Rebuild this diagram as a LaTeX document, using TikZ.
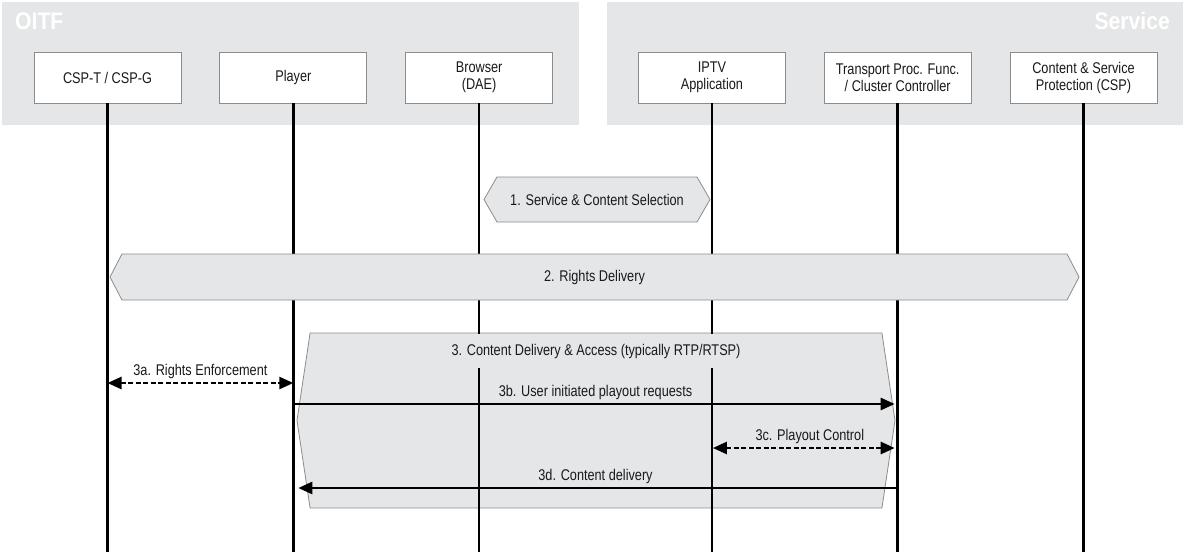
\documentclass[tikz,border=0pt]{standalone}
\usepackage{fontspec}
\setmainfont{Liberation Sans}[FakeStretch=0.82]
\newfontfamily\titlefont{Liberation Sans}[FakeStretch=0.88]
\usepackage{tikz}
\usetikzlibrary{shapes.symbols,arrows.meta,calc,positioning}
\definecolor{panelgray}{RGB}{229,230,231}
\definecolor{edgegray}{RGB}{140,140,140}
\definecolor{inkblack}{RGB}{26,26,26}

\begin{document}
\begin{tikzpicture}[x=1pt,y=-1pt,
	  every node/.style={align=center,text=inkblack,font=\fontsize{15.5}{17}\selectfont},
	  area/.style={fill=panelgray},
	  areatitle/.style={text=white,inner sep=0pt,font=\titlefont\bfseries\fontsize{24}{26}\selectfont},
	  entity/.style={draw=edgegray,line width=0.8pt,fill=white,minimum width=147pt,minimum height=51pt,inner sep=0pt},
	  life/.style={line width=2.6pt,draw=black},
	  phase/.style={signal,signal to=west and east,draw=edgegray,line width=0.8pt,fill=panelgray,inner sep=0pt},
	  msg/.style={line width=2.5pt,draw=black,-{Triangle[length=14pt,width=12pt]}},
	  ctrl/.style={line width=2.6pt,draw=black,dash pattern=on 5pt off 2.5pt,{Triangle[length=14pt,width=12pt]}-{Triangle[length=14pt,width=12pt]}}]

	  \useasboundingbox (0,0) rectangle (1185,552);

	  % OITF and Service areas
	  \fill[area] (2,2) rectangle (579,125);
	  \fill[area] (607,2) rectangle (1183,125);
	  \node[areatitle,anchor=west] (oitf) at (15,21) {OITF};
	  \node[areatitle,anchor=east] (service) at (1170,21) {Service};

	  % Functional entities
	  \node[entity] (cspt) at (107.5,77.5) {CSP-T / CSP-G};
	  \node[entity,right=38pt of cspt] (player) {Player};
	  \node[entity,right=38pt of player] (browser) {Browser\\(DAE)};
	  \node[entity,right=85pt of browser] (iptv) {IPTV\\Application};
	  \node[entity,right=38pt of iptv] (tpf) {Transport Proc. Func.\\/ Cluster Controller};
	  \node[entity,right=38pt of tpf] (csp) {Content \& Service\\Protection (CSP)};

	  % Phase 3 lies below the lifelines
	  \node[phase,signal pointer angle=163,minimum width=598pt,minimum height=175pt] (access) at (596,420.5) {};

	  % Lifelines
	  \coordinate (base) at (0,552);
	  \foreach \n in {cspt,player,browser,iptv,tpf,csp}
	    \draw[life] (\n.south) -- (\n |- base);

	  % Phases 1 and 2 cover the lifelines
	  \node[phase,signal pointer angle=120,minimum width=226pt,minimum height=45pt] (selection) at (597,199.5) {1. Service \& Content Selection};
	  \node[phase,signal pointer angle=125,minimum width=969pt,minimum height=46pt] (rights) at (594.5,277) {2. Rights Delivery};
	  \node[fill=panelgray,minimum height=34pt,inner xsep=2pt] (accesslbl) at (596,351) {3. Content Delivery \& Access (typically RTP/RTSP)};

	  % Messages
	  \coordinate (rowa) at (0,383);
	  \coordinate (rowb) at (0,404);
	  \coordinate (rowc) at (0,448);
	  \coordinate (rowd) at (0,488);
	  \draw[ctrl] (cspt |- rowa) -- node[midway,above=0pt] {3a. Rights Enforcement} (player |- rowa);
	  \draw[msg,shorten >=3pt] (player |- rowb) -- node[midway,above=0pt] {3b. User initiated playout requests} (tpf |- rowb);
	  \draw[ctrl,shorten <=1pt,shorten >=3pt] (iptv |- rowc) -- node[midway,above=0pt,xshift=5pt] {3c. Playout Control} (tpf |- rowc);
	  \draw[msg,shorten >=5pt] (tpf |- rowd) -- node[midway,above=0pt] {3d. Content delivery} (player |- rowd);

\end{tikzpicture}
\end{document}
